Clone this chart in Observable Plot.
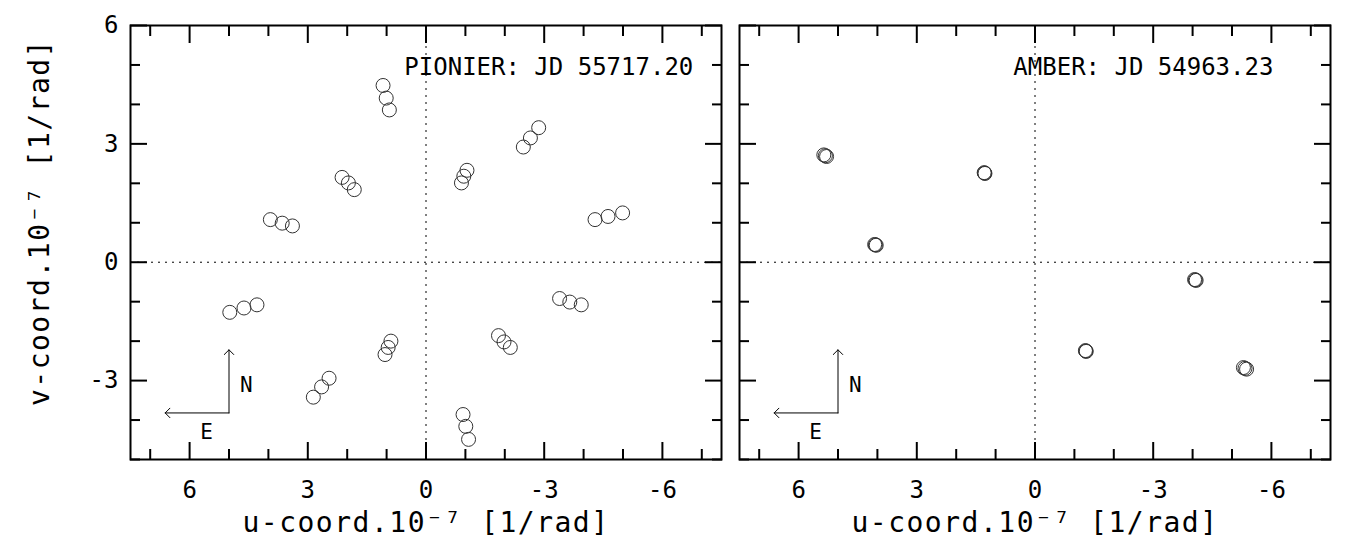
<!DOCTYPE html>
<html><head><meta charset="utf-8">
<script src="https://cdn.jsdelivr.net/npm/d3@7"></script>
<script src="https://cdn.jsdelivr.net/npm/@observablehq/plot@0.6"></script>
<style>
html,body{margin:0;padding:0;background:#fff;}
#wrap{display:flex;width:1371px;height:552px;overflow:hidden;}
svg{display:block;}
.axis-title text{letter-spacing:1.5px;}
</style></head><body><div id="wrap"></div>
<script>
// PIONIER uv coverage (u, v in 1e7 / rad)
const pionierU = [1.09, 1.01, 0.93, -2.47, -2.65, -2.86, -0.90, -0.96, -1.04, 2.13, 1.97, 1.82,
                  3.95, 3.65, 3.39, -4.29, -4.62, -4.99, 4.98, 4.62, 4.29, -3.39, -3.65, -3.94,
                  1.04, 0.96, 0.89, -1.84, -1.98, -2.14, 2.86, 2.65, 2.46, -0.94, -1.01, -1.08];
const pionierV = [4.48, 4.16, 3.86, 2.92, 3.15, 3.41, 2.01, 2.18, 2.33, 2.15, 2.01, 1.84,
                  1.08, 0.99, 0.92, 1.08, 1.16, 1.25, -1.27, -1.16, -1.08, -0.92, -1.01, -1.08,
                  -2.34, -2.16, -2.00, -1.86, -2.02, -2.16, -3.42, -3.16, -2.94, -3.86, -4.16, -4.49];
// AMBER uv coverage
const amberU = [5.36, 5.32, 5.29, 1.29, 1.28, 1.27, 4.07, 4.05, 4.03,
                -4.05, -4.07, -4.09, -1.28, -1.29, -1.30, -5.29, -5.33, -5.37];
const amberV = [2.72, 2.70, 2.68, 2.27, 2.26, 2.25, 0.45, 0.44, 0.43,
                -0.44, -0.45, -0.46, -2.24, -2.25, -2.26, -2.67, -2.69, -2.71];

const xMajorTicks = [6, 3, 0, -3, -6];
const xMinorTicks = [7, 5, 4, 2, 1, -1, -2, -4, -5, -7];
const yMajorTicks = [6, 3, 0, -3];
const yMinorTicks = [5, 4, 2, 1, -1, -2, -4, -5];
const panelLabels = ["PIONIER: JD 55717.20", "AMBER: JD 54963.23"];
const xTitle = "u-coord.10\u207B\u2077 [1/rad]";
const yTitle = "v-coord.10\u207B\u2077 [1/rad]";
// compass (N up, E left), in data units
const compassArrows = [
  {x1: 5.0, y1: -3.82, x2: 5.0, y2: -2.22},
  {x1: 5.0, y1: -3.82, x2: 6.62, y2: -3.82}
];
const compassLabels = [
  {u: 4.56, v: -3.13, t: "N"},
  {u: 5.57, v: -4.32, t: "E"}
];
const labelPos = {u: 0.55, v: 4.94};

const FONT = "DejaVu Sans Mono";

function panel({u, v, label, width, marginLeft, marginRight, showY}) {
  const data = u.map((d, i) => ({u: d, v: v[i]}));
  const marks = [
    Plot.ruleX([0], {stroke: "#000", strokeWidth: 1, strokeDasharray: "2,5"}),
    Plot.ruleY([0], {stroke: "#000", strokeWidth: 1, strokeDasharray: "2,5"}),
    Plot.dot(data, {x: "u", y: "v", r: 7, stroke: "#333", strokeWidth: 1, fill: "none"}),
  ];
  for (const anchor of ["bottom", "top"]) {
    marks.push(Plot.axisX(xMajorTicks, {anchor, tickSize: -17, fill: "none", label: null, strokeWidth: 2}));
    marks.push(Plot.axisX(xMinorTicks, {anchor, tickSize: -10, fill: "none", label: null, strokeWidth: 2}));
  }
  for (const anchor of ["left", "right"]) {
    marks.push(Plot.axisY(yMajorTicks, {anchor, tickSize: -17, fill: "none", label: null, strokeWidth: 2}));
    marks.push(Plot.axisY(yMinorTicks, {anchor, tickSize: -10, fill: "none", label: null, strokeWidth: 2}));
  }
  marks.push(Plot.axisX(xMajorTicks, {anchor: "bottom", tickSize: 0, tickPadding: 21, fontSize: 24,
    label: null, tickFormat: d => String(d), fill: "#000"}));
  if (showY) {
    marks.push(Plot.axisY(yMajorTicks, {anchor: "left", tickSize: 0, tickPadding: 12, fontSize: 24,
      label: null, tickFormat: d => String(d), fill: "#000"}));
    marks.push(Plot.text([yTitle], {frameAnchor: "left", dx: -90, dy: -20, rotate: -90,
      textAnchor: "middle", lineAnchor: "middle", fontSize: 28, fill: "#000", className: "axis-title"}));
  }
  marks.push(Plot.frame({stroke: "#000", strokeWidth: 2}));
  marks.push(Plot.text([label], {x: () => labelPos.u, y: () => labelPos.v, text: d => d,
    textAnchor: "start", fontSize: 24, fill: "#000"}));
  marks.push(Plot.arrow(compassArrows, {x1: "x1", y1: "y1", x2: "x2", y2: "y2",
    stroke: "#000", strokeWidth: 1, headAngle: 90, headLength: 10}));
  marks.push(Plot.text(compassLabels, {x: "u", y: "v", text: "t", fontSize: 21, fill: "#000"}));
  marks.push(Plot.text([xTitle], {frameAnchor: "bottom", dy: 64, lineAnchor: "middle",
    textAnchor: "middle", fontSize: 28, fill: "#000", className: "axis-title"}));

  return Plot.plot({
    width, height: 552,
    marginLeft, marginRight, marginTop: 25, marginBottom: 93,
    style: {fontFamily: FONT, background: "#fff", color: "#000"},
    x: {domain: [7.5, -7.5], axis: null, label: null},
    y: {domain: [-5, 6], axis: null, label: null},
    marks
  });
}

const wrap = document.getElementById("wrap");
wrap.appendChild(panel({u: pionierU, v: pionierV, label: panelLabels[0], width: 730,
  marginLeft: 130, marginRight: 9, showY: true}));
wrap.appendChild(panel({u: amberU, v: amberV, label: panelLabels[1], width: 641,
  marginLeft: 9, marginRight: 41, showY: false}));
</script></body></html>
